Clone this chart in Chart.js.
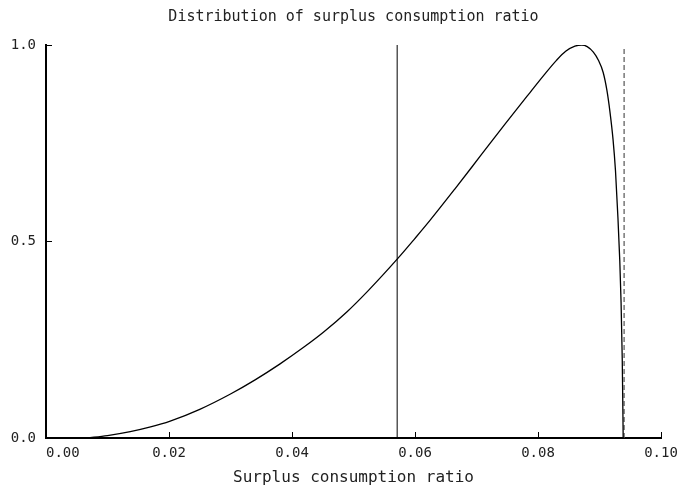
<!DOCTYPE html>
<html>
<head>
<meta charset="utf-8">
<script src="https://cdn.jsdelivr.net/npm/chart.js@4"></script>
<style>
  html, body { margin: 0; padding: 0; background: #fff; }
  #wrap { width: 678px; height: 491px; }
</style>
</head>
<body>
<div id="wrap"><canvas id="surplus-chart"></canvas></div>
<script>
// surplus consumption ratio grid and its (normalised) density
const surplusRatio = [
    0.0067, 0.0100, 0.0137, 0.0170, 0.0202, 0.0250, 0.0300, 0.0340, 0.0380, 0.0420,
    0.0451, 0.0490, 0.0524, 0.0571, 0.0600, 0.0624, 0.0665, 0.0706, 0.0746, 0.0787,
    0.0810, 0.0830, 0.0845, 0.0860, 0.0871, 0.0880, 0.0890, 0.0898, 0.0906, 0.0912,
    0.0917, 0.0922, 0.0926, 0.0930, 0.0933, 0.0935, 0.0937, 0.0938, 0.09385
];
const density = [
    0.000, 0.006, 0.016, 0.028, 0.043, 0.073, 0.112, 0.148, 0.188, 0.232,
    0.269, 0.322, 0.375, 0.455, 0.508, 0.553, 0.634, 0.717, 0.798, 0.879,
    0.924, 0.961, 0.984, 0.997, 1.000, 0.996, 0.982, 0.962, 0.930, 0.885,
    0.830, 0.760, 0.680, 0.560, 0.450, 0.350, 0.200, 0.070, 0.000
];

// steady-state value (solid) and upper bound (dashed)
const steadyRatio = 0.0571;
const maxRatio = 0.094;

const xTicks = [0.00, 0.02, 0.04, 0.06, 0.08, 0.10];
const yTicks = [0.0, 0.25, 0.5, 0.75, 1.0];
const yLabeled = [0.0, 0.5, 1.0];

const titleText = 'Distribution of surplus consumption ratio';
const xTitleText = 'Surplus consumption ratio';

const FONT = "'DejaVu Sans Mono', 'Liberation Mono', monospace";
const INK = '#222';

// title centred over the plot area rather than the canvas
const plotTitle = {
    id: 'plotTitle',
    afterDraw(chart) {
        const { ctx, chartArea } = chart;
        ctx.save();
        ctx.font = `15px ${FONT}`;
        ctx.fillStyle = INK;
        ctx.textAlign = 'center';
        ctx.textBaseline = 'middle';
        ctx.fillText(titleText, (chartArea.left + chartArea.right) / 2, 17);
        ctx.restore();
    }
};

new Chart(document.getElementById('surplus-chart').getContext('2d'), {
    type: 'line',
    data: {
        datasets: [
            {
                data: surplusRatio.map((x, i) => ({ x, y: density[i] })),
                borderColor: '#000',
                borderWidth: 1.3,
                pointRadius: 0,
                cubicInterpolationMode: 'monotone'
            },
            {
                data: [{ x: steadyRatio, y: 0 }, { x: steadyRatio, y: 1 }],
                borderColor: '#000',
                borderWidth: 1,
                pointRadius: 0
            },
            {
                data: [{ x: maxRatio, y: 0.99 }, { x: maxRatio, y: 0 }],
                borderColor: '#555',
                borderWidth: 1.2,
                borderDash: [5, 3],
                pointRadius: 0
            }
        ]
    },
    options: {
        responsive: true,
        maintainAspectRatio: false,
        animation: false,
        events: [],
        layout: { padding: { top: 45, right: 17, left: 0, bottom: 0 } },
        plugins: {
            legend: { display: false },
            tooltip: { enabled: false },
            title: { display: false }
        },
        scales: {
            x: {
                type: 'linear',
                min: 0,
                max: 0.1,
                afterBuildTicks: (scale) => { scale.ticks = xTicks.map(v => ({ value: v })); },
                afterFit: (scale) => {
                    scale.height = 53;
                    scale.paddingLeft = 0;
                    scale.paddingRight = 0;
                },
                border: { display: true, color: '#000', width: 2 },
                grid: { drawOnChartArea: false, drawTicks: true, tickLength: -6, color: '#000', lineWidth: 1 },
                ticks: {
                    padding: 13,
                    color: INK,
                    font: { family: FONT, size: 14 },
                    // first label sits just right of the y axis
                    callback: (v) => v === 0 ? '    0.00' : v.toFixed(2)
                },
                title: {
                    display: true,
                    text: xTitleText,
                    color: INK,
                    font: { family: FONT, size: 16 },
                    padding: { top: 0, bottom: 4 }
                }
            },
            y: {
                type: 'linear',
                min: 0,
                max: 1,
                afterBuildTicks: (scale) => { scale.ticks = yTicks.map(v => ({ value: v })); },
                afterFit: (scale) => { scale.width = 46; },
                border: { display: true, color: '#000', width: 2 },
                grid: { drawOnChartArea: false, drawTicks: true, tickLength: -6, color: '#000', lineWidth: 1 },
                ticks: {
                    padding: 16,
                    color: INK,
                    font: { family: FONT, size: 14 },
                    callback: (v) => yLabeled.includes(v) ? v.toFixed(1) : null
                }
            }
        }
    },
    plugins: [plotTitle]
});
</script>
</body>
</html>
